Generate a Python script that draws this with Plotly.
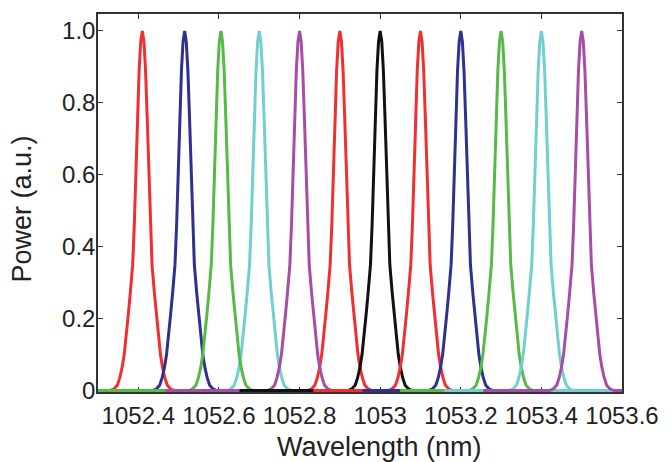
import plotly.graph_objects as go

# Peak centre wavelengths (nm), in drawing order
names = ["red1", "blue2", "cyan4", "red6", "green3", "magenta5", "black7",
         "red8", "blue9", "green10", "cyan11", "magenta12"]
centers = [1052.41, 1052.515, 1052.70, 1052.90, 1052.605, 1052.80, 1053.00,
           1053.10, 1053.20, 1053.30, 1053.40, 1053.50]
colors = ["#F0302E", "#2E3192", "#72CFCF", "#F0302E", "#55BA46", "#A64DA8", "#111111",
          "#F0302E", "#2E3192", "#55BA46", "#72CFCF", "#A64DA8"]
# Extent of each recorded spectrum (nm)
span_start = [1052.30, 1052.40, 1052.58, 1052.78, 1052.30, 1052.468, 1052.651,
              1052.834, 1052.956, 1053.049, 1053.159, 1053.256]
span_end = [1052.50, 1052.62, 1053.60, 1053.00, 1052.72, 1052.92, 1053.12,
            1053.20, 1053.30, 1053.42, 1053.60, 1053.60]

profile_offset = [-0.080, -0.070, -0.062, -0.056, -0.050, -0.045, -0.040, -0.035,
                  -0.030, -0.024, -0.020, -0.016, -0.012, -0.008, -0.004, 0.0,
                  0.004, 0.008, 0.012, 0.016, 0.020, 0.024, 0.030, 0.035,
                  0.040, 0.045, 0.050, 0.056, 0.062, 0.070, 0.080]
profile_power = [0.0, 0.005, 0.015, 0.035, 0.065, 0.10, 0.15, 0.21,
                 0.27, 0.35, 0.46, 0.61, 0.76, 0.89, 0.97, 1.0,
                 0.97, 0.89, 0.76, 0.61, 0.46, 0.35, 0.27, 0.21,
                 0.15, 0.10, 0.065, 0.035, 0.015, 0.005, 0.0]

xtick_vals = [1052.4, 1052.6, 1052.8, 1053.0, 1053.2, 1053.4, 1053.6]
xtick_text = ["1052.4", "1052.6", "1052.8", "1053", "1053.2", "1053.4", "1053.6"]
ytick_vals = [0, 0.2, 0.4, 0.6, 0.8, 1.0]
ytick_text = ["0", "0.2", "0.4", "0.6", "0.8", "1.0"]

fig = go.Figure()
for name, c, col, s, e in zip(names, centers, colors, span_start, span_end):
    xs = [s] + [c + o for o in profile_offset] + [e]
    ys = [0.0] + profile_power + [0.0]
    fig.add_trace(go.Scatter(x=xs, y=ys, mode="lines", name=name,
                             line=dict(color=col, width=3), showlegend=False,
                             hoverinfo="skip"))

font_family = "Liberation Sans, Arial, sans-serif"
axis_common = dict(showline=True, mirror="ticks", linecolor="#333333", linewidth=1.5,
                   ticks="inside", ticklen=5, tickwidth=1.2, tickcolor="#333333",
                   showgrid=False, zeroline=False, layer="below traces",
                   tickfont=dict(family=font_family, size=24, color="#222222"))

fig.update_layout(
    width=671, height=462,
    margin=dict(l=98, r=39, t=14, b=70),
    plot_bgcolor="white", paper_bgcolor="white",
    xaxis=dict(range=[1052.3, 1053.6], tickvals=xtick_vals, ticktext=xtick_text,
               ticklabelstandoff=1, **axis_common),
    yaxis=dict(range=[-0.004, 1.047], tickvals=ytick_vals, ticktext=ytick_text,
               ticklabelstandoff=-4, **axis_common),
    annotations=[
        dict(text="Wavelength (nm)", xref="paper", yref="paper", x=0.537, y=-0.1455,
             xanchor="center", yanchor="middle", showarrow=False,
             font=dict(family=font_family, size=27, color="#222222")),
        dict(text="Power (a.u.)", xref="paper", yref="paper", x=-0.144, y=0.484,
             xanchor="center", yanchor="middle", showarrow=False, textangle=-90,
             font=dict(family=font_family, size=27, color="#222222")),
    ],
)

fig.write_html("out.html", config={"displayModeBar": False},
               post_script="document.body.style.margin='0';document.body.style.overflow='hidden';")
